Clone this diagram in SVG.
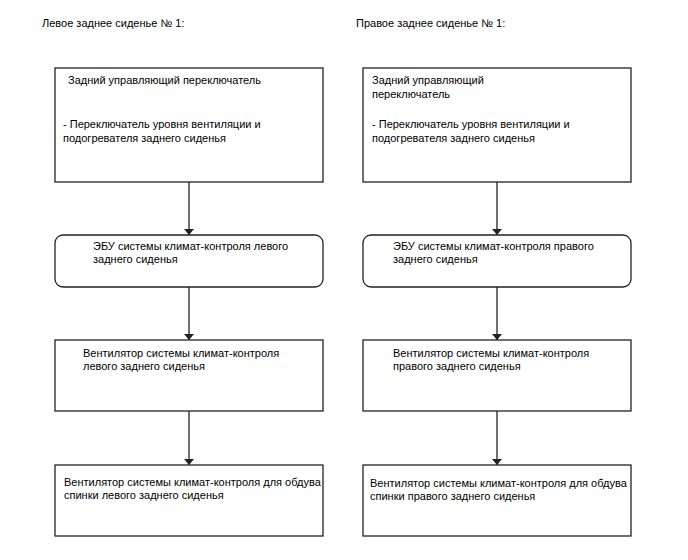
<svg xmlns="http://www.w3.org/2000/svg" width="688" height="560" viewBox="0 0 688 560">
<style>
text{font-family:"Liberation Sans",Arial,sans-serif;font-size:11px;fill:#000}
.b{fill:#fff;stroke:#222;stroke-width:1.3}
.c{stroke:#222;stroke-width:1.3;fill:none}
</style>
<defs>
<marker id="ah" viewBox="0 0 6 10" refX="6" refY="5" markerWidth="6" markerHeight="10" markerUnits="userSpaceOnUse" orient="auto">
<path d="M0,0 L6,5 L0,10 z" fill="#222"/>
</marker>
</defs>
<rect width="688" height="560" fill="#fff"/>
<text x="42" y="27">Левое заднее сиденье № 1:</text>
<text x="356" y="27">Правое заднее сиденье № 1:</text>
<g id="connectors">
<line class="c" x1="189" y1="182" x2="189" y2="235" marker-end="url(#ah)"/>
<line class="c" x1="189" y1="287" x2="189" y2="340" marker-end="url(#ah)"/>
<line class="c" x1="189" y1="411" x2="189" y2="465" marker-end="url(#ah)"/>
<line class="c" x1="497" y1="182" x2="497" y2="235" marker-end="url(#ah)"/>
<line class="c" x1="497" y1="287" x2="497" y2="340" marker-end="url(#ah)"/>
<line class="c" x1="497" y1="411" x2="497" y2="465" marker-end="url(#ah)"/>
</g>
<g id="l1">
<rect class="b" x="55" y="68" width="268" height="114"/>
<text x="68" y="84">Задний управляющий переключатель</text>
<text x="63" y="128">- Переключатель уровня вентиляции и</text>
<text x="63" y="142">подогревателя заднего сиденья</text>
</g>
<g id="l2">
<rect class="b" x="55" y="235" width="268" height="52" rx="8"/>
<text x="93" y="250">ЭБУ системы климат-контроля левого</text>
<text x="93" y="263">заднего сиденья</text>
</g>
<g id="l3">
<rect class="b" x="55" y="340" width="268" height="71"/>
<text x="83" y="357">Вентилятор системы климат-контроля</text>
<text x="83" y="370">левого заднего сиденья</text>
</g>
<g id="l4">
<rect class="b" x="55" y="465" width="268" height="71"/>
<text x="64" y="486">Вентилятор системы климат-контроля для обдува</text>
<text x="64" y="499">спинки левого заднего сиденья</text>
</g>
<g id="r1">
<rect class="b" x="363" y="68" width="268" height="114"/>
<text x="372" y="84">Задний управляющий</text>
<text x="372" y="98">переключатель</text>
<text x="372" y="128">- Переключатель уровня вентиляции и</text>
<text x="372" y="142">подогревателя заднего сиденья</text>
</g>
<g id="r2">
<rect class="b" x="363" y="235" width="268" height="52" rx="8"/>
<text x="393" y="250">ЭБУ системы климат-контроля правого</text>
<text x="393" y="263">заднего сиденья</text>
</g>
<g id="r3">
<rect class="b" x="363" y="340" width="268" height="71"/>
<text x="393" y="357">Вентилятор системы климат-контроля</text>
<text x="393" y="370">правого заднего сиденья</text>
</g>
<g id="r4">
<rect class="b" x="363" y="465" width="268" height="71"/>
<text x="370" y="487">Вентилятор системы климат-контроля для обдува</text>
<text x="370" y="500">спинки правого заднего сиденья</text>
</g>
</svg>
